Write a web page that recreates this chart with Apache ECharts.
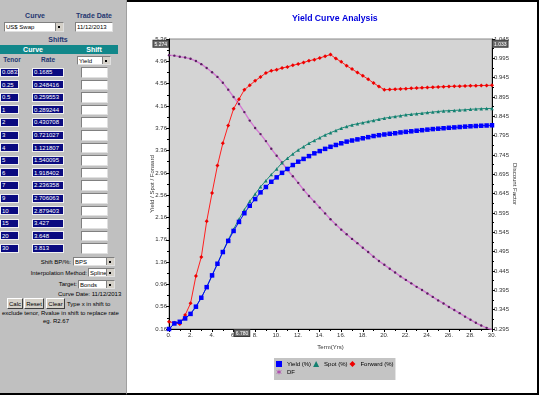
<!DOCTYPE html>
<html><head><meta charset="utf-8">
<script src="https://cdn.jsdelivr.net/npm/echarts@6/dist/echarts.min.js"></script>
<style>
html,body{margin:0;padding:0;width:539px;height:395px;overflow:hidden;background:#fff;font-family:"Liberation Sans",Arial,sans-serif;}
#chart{position:absolute;left:0;top:0;width:539px;height:395px;}
#frame{position:absolute;left:127px;top:0;width:412px;height:395px;border-top:2px solid #000;border-right:2px solid #000;border-bottom:2px solid #000;box-sizing:border-box;pointer-events:none;}
#panel{position:absolute;left:0;top:0;width:127px;height:395px;background:#c0c0c0;border-bottom:2px solid #000;border-right:1px solid #a0a0a0;box-sizing:border-box;}
.t{position:absolute;white-space:nowrap;line-height:1;}
.b{position:absolute;box-sizing:border-box;overflow:hidden;}
.inp{background:#fff;border:1px solid #808080;border-right-color:#e0e0e0;border-bottom-color:#e0e0e0;}
.dark{background:#0a0a80;border:1px solid #f0f0f0;color:#fff;}
.btn{background:#d4d0c8;border:1px solid #fff;border-right-color:#404040;border-bottom-color:#404040;}
.dd{position:absolute;right:0;top:0;bottom:0;width:7px;background:#d4d0c8;border-left:1px solid #808080;}
.dd:after{content:"";position:absolute;left:2px;top:3px;width:2px;height:2px;background:#000;}
</style>
</head><body>
<div id="chart"></div>
<div id="panel"></div>
<div id="frame"></div>
<script>
// ---------- data ----------
const tenors = ['0.0833','0.25','0.5','1','2','3','4','5','6','7','9','10','15','20','30'];
const rates = ['0.1685','0.248416','0.259553','0.289244','0.430708','0.721027','1.121807','1.540095','1.918402','2.236358','2.706063','2.879403','3.427','3.648','3.813'];

const terms = [0,0.5,1,1.5,2,2.5,3,3.5,4,4.5,5,5.5,6,6.5,7,7.5,8,8.5,9,9.5,10,10.5,11,11.5,12,12.5,13,13.5,14,14.5,15,15.5,16,16.5,17,17.5,18,18.5,19,19.5,20,20.5,21,21.5,22,22.5,23,23.5,24,24.5,25,25.5,26,26.5,27,27.5,28,28.5,29,29.5,30];
const yieldVals = [0.16,0.26,0.289,0.35,0.431,0.56,0.721,0.91,1.122,1.33,1.54,1.74,1.918,2.08,2.236,2.37,2.49,2.61,2.706,2.80,2.879,2.96,3.03,3.10,3.16,3.21,3.26,3.31,3.35,3.39,3.427,3.46,3.49,3.52,3.54,3.56,3.58,3.60,3.62,3.635,3.648,3.66,3.67,3.685,3.695,3.705,3.715,3.725,3.735,3.745,3.752,3.76,3.768,3.775,3.782,3.789,3.795,3.80,3.805,3.809,3.813];
const spotVals = [0.16,0.26,0.29,0.35,0.43,0.56,0.72,0.91,1.12,1.33,1.55,1.76,1.95,2.13,2.30,2.45,2.58,2.71,2.82,2.93,3.03,3.14,3.22,3.30,3.37,3.43,3.49,3.54,3.59,3.64,3.68,3.72,3.76,3.79,3.82,3.84,3.86,3.88,3.90,3.92,3.94,3.955,3.97,3.985,4.00,4.01,4.02,4.03,4.04,4.05,4.06,4.07,4.075,4.08,4.085,4.09,4.10,4.105,4.11,4.113,4.115];
const fwdVals = [0.29,0.27,0.25,0.41,0.62,1.11,1.45,2.09,2.60,3.09,3.49,3.81,4.11,4.28,4.45,4.53,4.61,4.68,4.75,4.79,4.81,4.84,4.86,4.89,4.91,4.94,4.97,4.99,5.02,5.05,5.08,5.01,4.95,4.88,4.82,4.76,4.70,4.64,4.57,4.51,4.45,4.455,4.46,4.465,4.47,4.475,4.48,4.485,4.49,4.495,4.50,4.505,4.51,4.512,4.515,4.518,4.52,4.523,4.526,4.528,4.53];
const dfVals = [1.003,1.002,0.999,0.997,0.994,0.988,0.980,0.970,0.959,0.947,0.932,0.914,0.895,0.877,0.856,0.834,0.815,0.799,0.781,0.761,0.743,0.726,0.706,0.690,0.673,0.655,0.639,0.624,0.609,0.594,0.579,0.565,0.552,0.540,0.528,0.517,0.505,0.494,0.482,0.471,0.461,0.451,0.441,0.431,0.422,0.413,0.404,0.396,0.387,0.378,0.369,0.361,0.352,0.344,0.336,0.327,0.319,0.311,0.304,0.298,0.293];

const leftTicks = [0.16,0.56,0.96,1.36,1.76,2.16,2.56,2.96,3.36,3.76,4.16,4.56,4.96,5.36];
const rightTicks = [0.295,0.345,0.395,0.445,0.495,0.545,0.595,0.645,0.695,0.745,0.795,0.845,0.895,0.945,0.995,1.045];

// ---------- left form panel ----------
const panel = document.getElementById('panel');
function txt(s, x, cy, o) {
  o = o || {};
  const size = o.size || 6;
  const d = document.createElement('div');
  d.className = 't';
  d.textContent = s;
  d.style.fontSize = size + 'px';
  d.style.left = x + 'px';
  d.style.top = (cy - size / 2) + 'px';
  d.style.color = o.color || '#000';
  if (o.bold) d.style.fontWeight = 'bold';
  if (o.align === 'center') d.style.transform = 'translateX(-50%)';
  if (o.align === 'right') d.style.transform = 'translateX(-100%)';
  panel.appendChild(d);
  return d;
}
function box(x, y, w, h, cls, label, dd) {
  const d = document.createElement('div');
  d.className = 'b ' + cls;
  d.style.left = x + 'px'; d.style.top = y + 'px';
  d.style.width = w + 'px'; d.style.height = h + 'px';
  if (label) {
    const s = document.createElement('div');
    s.className = 't';
    s.textContent = label;
    s.style.fontSize = '6px';
    s.style.left = (cls.indexOf('btn') >= 0 ? '50%' : '1px');
    if (cls.indexOf('btn') >= 0) s.style.transform = 'translateX(-50%)';
    s.style.top = ((h - 2) / 2 - 3) + 'px';
    d.appendChild(s);
  }
  if (dd) { const a = document.createElement('div'); a.className = 'dd'; d.appendChild(a); }
  panel.appendChild(d);
  return d;
}
const hdr = '#1f3670';
txt('Curve', 35, 15, {align:'center', bold:true, size:7, color:hdr});
txt('Trade Date', 94, 15, {align:'center', bold:true, size:7, color:hdr});
box(4, 22, 60, 10, 'inp', 'US$ Swap', true);
box(75, 22, 38, 10, 'inp', '11/12/2013');
txt('Shifts', 58, 39.5, {align:'center', bold:true, size:7, color:hdr});
const bar = document.createElement('div');
bar.className = 'b'; bar.style.cssText = 'left:0;top:45px;width:118px;height:9px;background:#11878a;';
panel.appendChild(bar);
txt('Curve', 33, 49.5, {align:'center', bold:true, size:7, color:'#fff'});
txt('Shift', 94, 49.5, {align:'center', bold:true, size:7, color:'#fff'});
txt('Tenor', 12, 60.5, {align:'center', bold:true, size:6.5, color:hdr});
txt('Rate', 48, 60.5, {align:'center', bold:true, size:6.5, color:hdr});
box(77, 56, 34, 9, 'inp', 'Yield', true);
tenors.forEach((tn, i) => {
  const y = 67.5 + i * 12.6;
  box(0, y, 19, 9, 'dark', tn);
  box(32, y, 32, 9, 'dark', rates[i]);
  box(81, y - 0.5, 27, 10.5, 'inp');
});
txt('Shift BP/%:', 71, 261.5, {align:'right'});
box(73, 257, 42, 9, 'inp', 'BPS', true);
txt('Interpolation Method:', 87, 272.5, {align:'right'});
box(88, 268, 27, 9, 'inp', 'Spline', true);
txt('Target:', 77, 284, {align:'right'});
box(78, 280, 37, 9, 'inp', 'Bonds', true);
txt('Curve Date: 11/12/2013', 58, 294);
box(7, 298, 16, 11, 'btn', 'Calc');
box(24, 298, 20, 11, 'btn', 'Reset');
box(46, 298, 19, 11, 'btn', 'Clear');
txt('Type x in shift to', 67, 304);
txt('exclude tenor, Rvalue in shift to replace rate', 2, 313);
txt('eg. R2.67', 43, 321);

// ---------- chart ----------
const chart = echarts.init(document.getElementById('chart'), null, {renderer:'canvas'});
const pair = vals => terms.map((t, i) => [t, vals[i]]);
const mid = arr => arr.slice(1).map((v, i) => +((v + arr[i]) / 2).toFixed(4));
const starPath = 'path://M5,0 L6,3.5 L10,2 L7,5 L10,8 L6,6.5 L5,10 L4,6.5 L0,8 L3,5 L0,2 L4,3.5 Z';
const lab = {fontSize:6, color:'#333', fontFamily:'Liberation Sans'};
const apLabel = {show:true, backgroundColor:'#6a6a6a', color:'#fff', fontSize:5, padding:[1,1,0,1], borderColor:'#3a3a3a', borderWidth:1, borderRadius:0, margin:1, fontFamily:'Liberation Sans'};
const axLine = {show:true, lineStyle:{color:'#000', width:1}};
chart.setOption({
  animation:false,
  textStyle:{fontFamily:'Liberation Sans'},
  title:{text:'Yield Curve Analysis', left:287, top:9, textStyle:{fontSize:8.7, fontWeight:'bold', color:'#0000dd'}},
  grid:{left:169, right:47, top:39, bottom:66, show:true, backgroundColor:'#d4d4d4', borderColor:'#8a8a8a', borderWidth:1},
  legend:{left:274, top:358, width:118, orient:'horizontal', itemWidth:6, itemHeight:6, itemGap:2, padding:[3,2,5,2],
    backgroundColor:'#c4c4c4', textStyle:{fontSize:6, color:'#000'},
    data:[{name:'Yield (%)', icon:'rect'},{name:'Spot (%)', icon:'triangle'},{name:'Forward (%)', icon:'diamond'},
      {name:'DF', icon:starPath, itemStyle:{color:'#b050b0'}}]},
  xAxis:{type:'value', min:0, max:30, interval:2, name:'Term(Yrs)', nameLocation:'middle', nameGap:15, nameMoveOverlap:false,
    nameTextStyle:{fontSize:6, color:'#333'},
    axisLine:axLine, axisTick:{show:true, length:3, lineStyle:{color:'#000'}},
    minorTick:{show:true, splitNumber:2, length:2, lineStyle:{color:'#000'}},
    splitLine:{show:false},
    axisLabel:Object.assign({margin:3, formatter:v => v + '.'}, lab),
    axisPointer:{show:true, type:'none', value:6.78, status:'show', triggerTooltip:false,
      label:Object.assign({formatter:p => Number(p.value).toFixed(3)}, apLabel)}},
  yAxis:[
    {type:'value', position:'left', min:0.16, max:5.36, name:'Yield / Spot / Forward', nameLocation:'middle', nameRotate:90, nameGap:14, nameMoveOverlap:false,
      nameTextStyle:{fontSize:6, color:'#333'},
      axisLine:axLine, axisTick:{show:true, length:3, customValues:leftTicks, lineStyle:{color:'#000'}},
      splitLine:{show:false},
      axisLabel:Object.assign({margin:2, customValues:leftTicks, formatter:v => v.toFixed(2)}, lab),
      axisPointer:{show:true, type:'none', value:5.274, status:'show', triggerTooltip:false,
        label:Object.assign({formatter:p => Number(p.value).toFixed(3)}, apLabel)}},
    {type:'value', position:'right', min:0.295, max:1.045, name:'Discount Factor', nameLocation:'middle', nameRotate:-90, nameGap:20, nameMoveOverlap:false,
      nameTextStyle:{fontSize:6, color:'#333'},
      axisLine:axLine, axisTick:{show:true, length:3, customValues:rightTicks, lineStyle:{color:'#000'}},
      splitLine:{show:false},
      axisLabel:Object.assign({margin:2, customValues:rightTicks, formatter:v => v.toFixed(3)}, lab),
      axisPointer:{show:true, type:'none', value:1.033, status:'show', triggerTooltip:false,
        label:Object.assign({formatter:p => Number(p.value).toFixed(3)}, apLabel)}},
    {type:'value', position:'left', min:0.16, max:5.36, axisLine:{show:false}, splitLine:{show:false},
      axisTick:{show:true, length:2, customValues:mid(leftTicks), lineStyle:{color:'#000'}}, axisLabel:{show:false}},
    {type:'value', position:'right', min:0.295, max:1.045, axisLine:{show:false}, splitLine:{show:false},
      axisTick:{show:true, length:2, customValues:mid(rightTicks), lineStyle:{color:'#000'}}, axisLabel:{show:false}}
  ],
  series:[
    {name:'Yield (%)', type:'line', yAxisIndex:0, data:pair(yieldVals), symbol:'rect', symbolSize:4.5, z:5,
      lineStyle:{color:'#0000ff', width:1}, itemStyle:{color:'#0000ff'}},
    {name:'Spot (%)', type:'line', yAxisIndex:0, data:pair(spotVals), symbol:'triangle', symbolSize:3.5, z:4,
      lineStyle:{color:'#1d8a78', width:1}, itemStyle:{color:'#138070'}},
    {name:'Forward (%)', type:'line', yAxisIndex:0, data:pair(fwdVals), symbol:'diamond', symbolSize:4, z:3,
      lineStyle:{color:'#ff2020', width:1}, itemStyle:{color:'#ee0000'}},
    {name:'DF', type:'line', yAxisIndex:1, data:pair(dfVals), symbol:'circle', symbolSize:2.4, z:2,
      lineStyle:{color:'#d27ad2', width:1.4}, itemStyle:{color:'#5a2060'}}
  ]
});
</script>
</body></html>
